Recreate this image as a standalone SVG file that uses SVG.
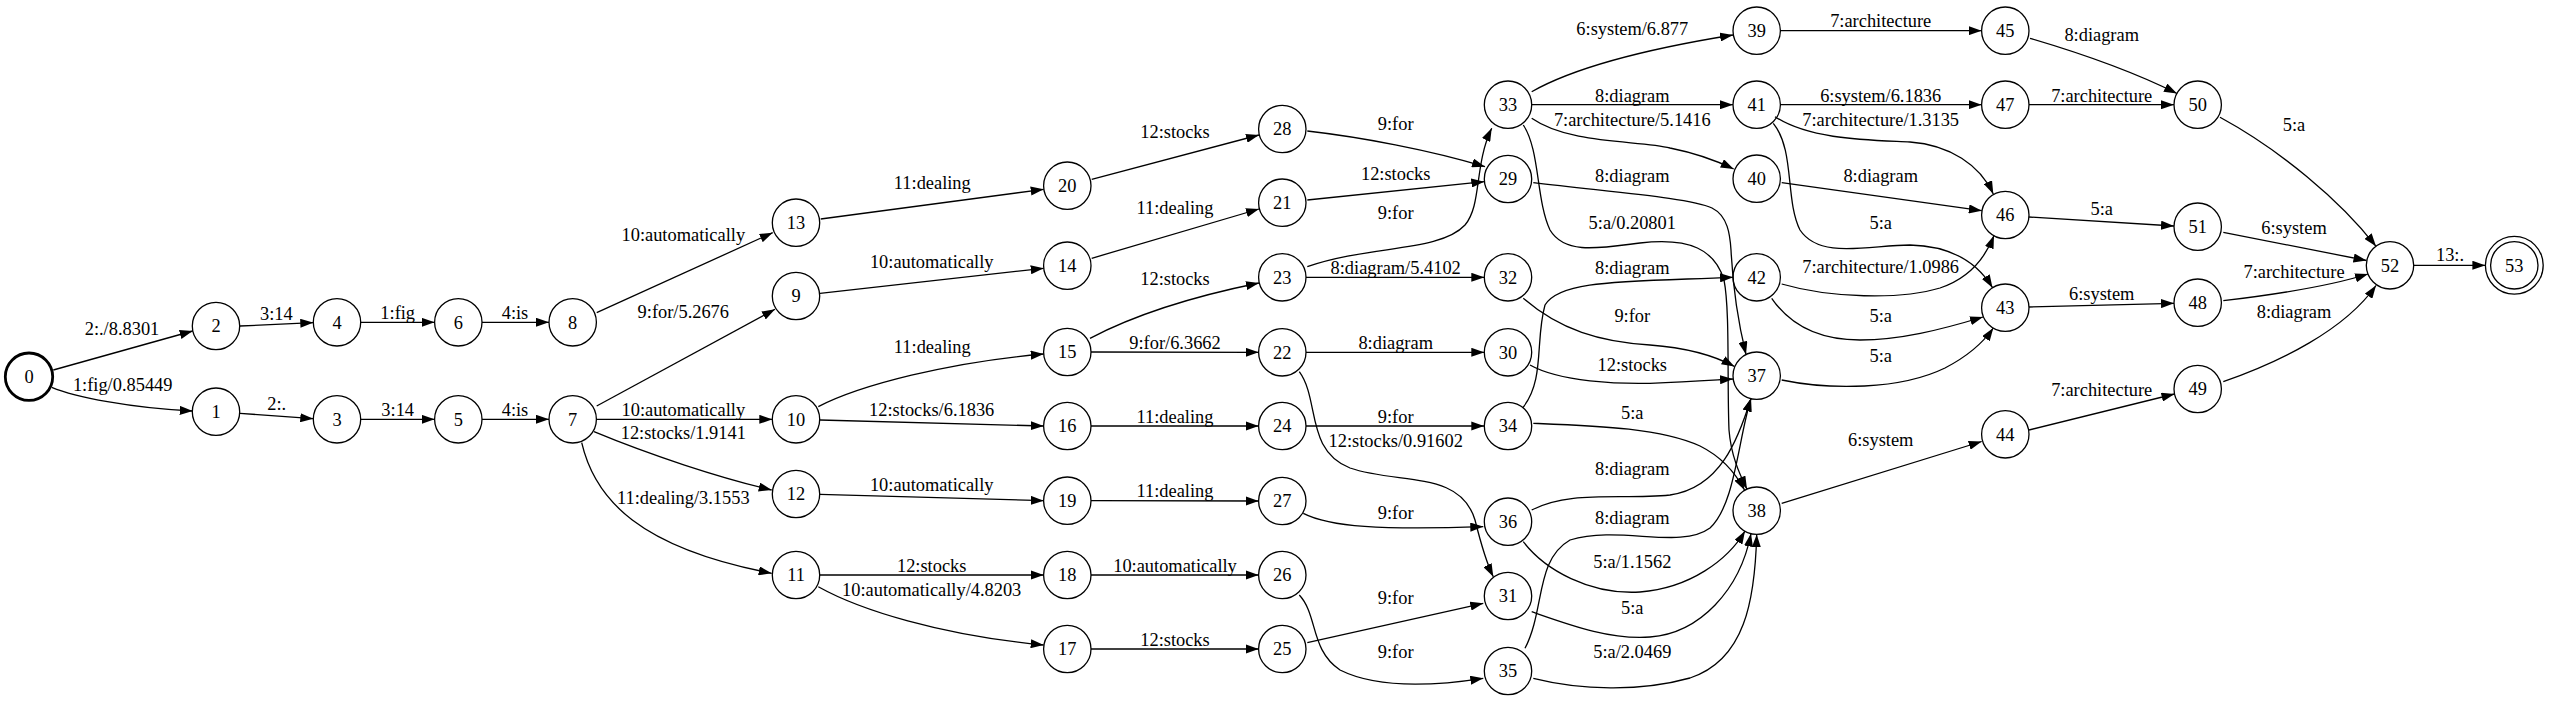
<svg xmlns="http://www.w3.org/2000/svg" width="2550" height="701" viewBox="0 0 2550 701">
<style>
text{font-family:"Liberation Serif","Times New Roman",Times,serif;font-size:18.4px;text-anchor:middle;fill:#000}
.node circle{fill:none;stroke:#000;stroke-width:1.3}
.node.start circle{stroke-width:2.8}
.edge path{fill:none;stroke:#000;stroke-width:1.3;marker-end:url(#ah)}
</style>
<defs>
<marker id="ah" viewBox="0 0 13 9.1" refX="13" refY="4.55" markerWidth="13" markerHeight="9.1" markerUnits="userSpaceOnUse" orient="auto">
<polygon points="0,0 13,4.55 0,9.1" fill="#000"/>
</marker>
</defs>
<rect width="2550" height="701" fill="#fff"/>
<g id="edges">
<g class="edge"><path d="M53.3,370 L192.7,331"/><text x="122" y="335">2:./8.8301</text></g>
<g class="edge"><path d="M51.7,387.3 C75,397 130,408 192.7,411"/><text x="122.7" y="391">1:fig/0.85449</text></g>
<g class="edge"><path d="M240,326 L313.3,322.7"/><text x="276.3" y="320">3:14</text></g>
<g class="edge"><path d="M240,413.3 L313.3,418.7"/><text x="276.7" y="410">2:.</text></g>
<g class="edge"><path d="M361,322.3 L434.6,322.3"/><text x="397.7" y="318.5">1:fig</text></g>
<g class="edge"><path d="M361,419.3 L434.6,419.3"/><text x="397.7" y="416">3:14</text></g>
<g class="edge"><path d="M482,322.3 L549,322.3"/><text x="515" y="319">4:is</text></g>
<g class="edge"><path d="M482,419.3 L549,419.3"/><text x="515" y="415.5">4:is</text></g>
<g class="edge"><path d="M596.7,312.7 L772.7,232.7"/><text x="683.3" y="241">10:automatically</text></g>
<g class="edge"><path d="M596.7,406 L775,309.3"/><text x="683.3" y="318.3">9:for/5.2676</text></g>
<g class="edge"><path d="M596.4,419.3 L772.3,419.3"/><text x="683.3" y="415.5">10:automatically</text></g>
<g class="edge"><path d="M594,431.7 C650,455 720,478 771.7,490"/><text x="683.3" y="439.3">12:stocks/1.9141</text></g>
<g class="edge"><path d="M581.7,442.7 C595,500 640,548 771.7,573.3"/><text x="683.3" y="503.7">11:dealing/3.1553</text></g>
<g class="edge"><path d="M820.7,219 L1043.7,189.3"/><text x="932.3" y="188.7">11:dealing</text></g>
<g class="edge"><path d="M820,293.3 L1043.7,268.3"/><text x="931.7" y="268.3">10:automatically</text></g>
<g class="edge"><path d="M818.3,406.7 C860,385 950,362 1043.7,354"/><text x="932.3" y="353.3">11:dealing</text></g>
<g class="edge"><path d="M820,420 L1043.7,426"/><text x="931.7" y="415.5">12:stocks/6.1836</text></g>
<g class="edge"><path d="M820,494.3 L1043.7,500.7"/><text x="931.7" y="491">10:automatically</text></g>
<g class="edge"><path d="M820,575 L1043.7,575"/><text x="931.7" y="571.5">12:stocks</text></g>
<g class="edge"><path d="M818.3,586.7 C860,610 940,635 1043.7,645"/><text x="931.7" y="596">10:automatically/4.8203</text></g>
<g class="edge"><path d="M1091.7,179.3 L1259,135"/><text x="1175" y="138.3">12:stocks</text></g>
<g class="edge"><path d="M1091.7,258.3 L1259,209"/><text x="1175" y="213.7">11:dealing</text></g>
<g class="edge"><path d="M1090,338.3 C1140,312 1200,295 1259,283"/><text x="1175" y="285.3">12:stocks</text></g>
<g class="edge"><path d="M1091,352 L1258.6,352.3"/><text x="1175" y="349">9:for/6.3662</text></g>
<g class="edge"><path d="M1091,426 L1258.6,426"/><text x="1175" y="422.5">11:dealing</text></g>
<g class="edge"><path d="M1091,500.7 L1258.6,501"/><text x="1175" y="497">11:dealing</text></g>
<g class="edge"><path d="M1091,575 L1258.6,575"/><text x="1175" y="571.5">10:automatically</text></g>
<g class="edge"><path d="M1091,649 L1258.6,649"/><text x="1175" y="645.5">12:stocks</text></g>
<g class="edge"><path d="M1307.3,131 C1360,137 1430,150 1485,166.7"/><text x="1395.7" y="130.3">9:for</text></g>
<g class="edge"><path d="M1307.3,200 L1484.3,181.7"/><text x="1395.7" y="180">12:stocks</text></g>
<g class="edge"><path d="M1307.3,266.7 C1370,245 1440,252 1465,225 C1482,205 1474,165 1491.7,128.3"/><text x="1395.7" y="219.3">9:for</text></g>
<g class="edge"><path d="M1306,277.3 L1484.3,277.3"/><text x="1395.7" y="273.5">8:diagram/5.4102</text></g>
<g class="edge"><path d="M1306,352.3 L1484.3,352.3"/><text x="1395.7" y="349">8:diagram</text></g>
<g class="edge"><path d="M1306,426 L1484.3,426"/><text x="1395.7" y="422.5">9:for</text></g>
<g class="edge"><path d="M1299.3,371.7 C1320,400 1305,450 1350,468 C1400,485 1460,470 1475,520 C1480,540 1485,560 1493.3,576.7"/><text x="1395.7" y="446.7">12:stocks/0.91602</text></g>
<g class="edge"><path d="M1303.3,513.3 C1330,527 1380,530 1483.3,526.7"/><text x="1395.7" y="519.3">9:for</text></g>
<g class="edge"><path d="M1307.3,642.7 L1483.3,603.3"/><text x="1395.7" y="604.3">9:for</text></g>
<g class="edge"><path d="M1299.3,595 C1318,615 1310,650 1340,670 C1380,690 1440,685 1483.3,678.3"/><text x="1395.7" y="658.3">9:for</text></g>
<g class="edge"><path d="M1531.7,91.7 C1570,70 1640,50 1733,35"/><text x="1632.3" y="35.3">6:system/6.877</text></g>
<g class="edge"><path d="M1531.7,104.7 L1733,104.7"/><text x="1632.3" y="101.5">8:diagram</text></g>
<g class="edge"><path d="M1531.7,118.3 C1570,145 1640,140 1670,148 C1695,153 1715,160 1733.7,169"/><text x="1632.3" y="126">7:architecture/5.1416</text></g>
<g class="edge"><path d="M1533.3,182.7 C1620,193 1690,198 1712,208 C1728,216 1730,235 1731,250 C1733,290 1739,326 1746,354.5"/><text x="1632.3" y="181.7">8:diagram</text></g>
<g class="edge"><path d="M1523.3,125 C1540,150 1536,200 1550,230 C1565,255 1600,248 1640,243 C1690,237 1715,250 1724,280 C1730,310 1727,380 1729,430 C1731,455 1739,473 1747,489.2"/><text x="1632.3" y="228.7">5:a/0.20801</text></g>
<g class="edge"><path d="M1523,407.5 C1545,380 1535,340 1545,305 C1560,280 1620,282 1733,277.3"/><text x="1632.3" y="274.3">8:diagram</text></g>
<g class="edge"><path d="M1523.3,298.3 C1560,330 1600,342 1650,345 C1690,348 1715,356 1734.5,366.5"/><text x="1632.3" y="321.7">9:for</text></g>
<g class="edge"><path d="M1530,365 C1560,382 1620,384 1650,383.3 C1690,382 1715,380 1733,379"/><text x="1632.3" y="371">12:stocks</text></g>
<g class="edge"><path d="M1533.3,423.3 C1600,426 1660,428 1700,446 C1720,456 1735,472 1744.5,490"/><text x="1632.3" y="419.3">5:a</text></g>
<g class="edge"><path d="M1531.7,510 C1570,490 1620,500 1670,495 C1720,488 1738,440 1751,398.5"/><text x="1632.3" y="475.3">8:diagram</text></g>
<g class="edge"><path d="M1525,648.3 C1545,610 1535,560 1570,540 C1620,525 1680,550 1710,528 C1735,505 1738,440 1751,398.5"/><text x="1632.3" y="524.3">8:diagram</text></g>
<g class="edge"><path d="M1523.3,541.7 C1545,570 1590,595 1640,592 C1690,588 1728,560 1745,531"/><text x="1632.3" y="567.7">5:a/1.1562</text></g>
<g class="edge"><path d="M1531.7,611.7 C1570,625 1610,640 1650,637 C1700,633 1740,590 1751,533.5"/><text x="1632.3" y="614.3">5:a</text></g>
<g class="edge"><path d="M1533.3,678.3 C1580,690 1640,692 1690,678 C1745,660 1755,600 1756.7,534.4"/><text x="1632.3" y="658.3">5:a/2.0469</text></g>
<g class="edge"><path d="M1780.4,30.7 L1981.6,30.7"/><text x="1880.7" y="27">7:architecture</text></g>
<g class="edge"><path d="M1780.4,104.7 L1981.6,104.7"/><text x="1880.7" y="101.5">6:system/6.1836</text></g>
<g class="edge"><path d="M1775,116.7 C1810,140 1870,140 1910,142 C1950,145 1980,165 1993.3,194"/><text x="1880.7" y="126">7:architecture/1.3135</text></g>
<g class="edge"><path d="M1781.7,182.7 L1981.8,210.7"/><text x="1880.7" y="181.7">8:diagram</text></g>
<g class="edge"><path d="M1773.3,123.3 C1795,150 1785,200 1800,230 C1820,260 1870,245 1910,245 C1950,246 1977,262 1992.5,287.7"/><text x="1880.7" y="229.3">5:a</text></g>
<g class="edge"><path d="M1781.7,284 C1830,298 1900,300 1940,288 C1970,278 1986,256 1994,235.5"/><text x="1880.7" y="272.7">7:architecture/1.0986</text></g>
<g class="edge"><path d="M1771.7,298.3 C1790,325 1820,340 1860,340 C1900,340 1940,330 1983,317"/><text x="1880.7" y="322">5:a</text></g>
<g class="edge"><path d="M1781.7,380 C1830,390 1900,390 1945,368 C1970,355 1985,340 1993.3,328"/><text x="1880.7" y="362">5:a</text></g>
<g class="edge"><path d="M1781.7,503.3 L1981.7,441.5"/><text x="1880.7" y="446">6:system</text></g>
<g class="edge"><path d="M2030,38.3 C2080,53 2130,70 2177,93.5"/><text x="2101.7" y="41">8:diagram</text></g>
<g class="edge"><path d="M2029,104.7 L2174,104.7"/><text x="2101.7" y="101.5">7:architecture</text></g>
<g class="edge"><path d="M2029,217 L2174,226"/><text x="2101.7" y="215">5:a</text></g>
<g class="edge"><path d="M2029,307 L2174,303.3"/><text x="2101.7" y="300">6:system</text></g>
<g class="edge"><path d="M2029,430 L2174.5,394"/><text x="2101.7" y="396">7:architecture</text></g>
<g class="edge"><path d="M2220,117.3 C2280,150 2340,200 2376,246.3"/><text x="2294" y="131">5:a</text></g>
<g class="edge"><path d="M2223.3,232.3 L2366.5,260.5"/><text x="2294" y="233.7">6:system</text></g>
<g class="edge"><path d="M2223.3,300.7 C2280,294 2330,286 2368,274"/><text x="2294" y="278.3">7:architecture</text></g>
<g class="edge"><path d="M2223.3,381.7 C2280,362 2345,330 2376,285.5"/><text x="2294" y="318.3">8:diagram</text></g>
<g class="edge"><path d="M2413.7,265.3 L2485.4,265.3"/><text x="2450" y="260.5">13:.</text></g>
</g>
<g id="node0" class="node start"><circle cx="29" cy="376.7" r="23.7"/><text x="29" y="383">0</text></g>
<g id="node1" class="node"><circle cx="216" cy="411.7" r="23.7"/><text x="216" y="418">1</text></g>
<g id="node2" class="node"><circle cx="216" cy="326" r="23.7"/><text x="216" y="332.3">2</text></g>
<g id="node3" class="node"><circle cx="337" cy="419.3" r="23.7"/><text x="337" y="425.6">3</text></g>
<g id="node4" class="node"><circle cx="337" cy="322.3" r="23.7"/><text x="337" y="328.6">4</text></g>
<g id="node5" class="node"><circle cx="458.3" cy="419.3" r="23.7"/><text x="458.3" y="425.6">5</text></g>
<g id="node6" class="node"><circle cx="458.3" cy="322.3" r="23.7"/><text x="458.3" y="328.6">6</text></g>
<g id="node7" class="node"><circle cx="572.7" cy="419.3" r="23.7"/><text x="572.7" y="425.6">7</text></g>
<g id="node8" class="node"><circle cx="572.7" cy="322.3" r="23.7"/><text x="572.7" y="328.6">8</text></g>
<g id="node9" class="node"><circle cx="796" cy="296" r="23.7"/><text x="796" y="302.3">9</text></g>
<g id="node10" class="node"><circle cx="796" cy="419.3" r="23.7"/><text x="796" y="425.6">10</text></g>
<g id="node11" class="node"><circle cx="796" cy="575" r="23.7"/><text x="796" y="581.3">11</text></g>
<g id="node12" class="node"><circle cx="796" cy="494" r="23.7"/><text x="796" y="500.3">12</text></g>
<g id="node13" class="node"><circle cx="796" cy="222.7" r="23.7"/><text x="796" y="229">13</text></g>
<g id="node14" class="node"><circle cx="1067.3" cy="265.7" r="23.7"/><text x="1067.3" y="272">14</text></g>
<g id="node15" class="node"><circle cx="1067.3" cy="352" r="23.7"/><text x="1067.3" y="358.3">15</text></g>
<g id="node16" class="node"><circle cx="1067.3" cy="426" r="23.7"/><text x="1067.3" y="432.3">16</text></g>
<g id="node17" class="node"><circle cx="1067.3" cy="649" r="23.7"/><text x="1067.3" y="655.3">17</text></g>
<g id="node18" class="node"><circle cx="1067.3" cy="575" r="23.7"/><text x="1067.3" y="581.3">18</text></g>
<g id="node19" class="node"><circle cx="1067.3" cy="500.7" r="23.7"/><text x="1067.3" y="507">19</text></g>
<g id="node20" class="node"><circle cx="1067.3" cy="185.7" r="23.7"/><text x="1067.3" y="192">20</text></g>
<g id="node21" class="node"><circle cx="1282.3" cy="202.7" r="23.7"/><text x="1282.3" y="209">21</text></g>
<g id="node22" class="node"><circle cx="1282.3" cy="352.3" r="23.7"/><text x="1282.3" y="358.6">22</text></g>
<g id="node23" class="node"><circle cx="1282.3" cy="277.3" r="23.7"/><text x="1282.3" y="283.6">23</text></g>
<g id="node24" class="node"><circle cx="1282.3" cy="426" r="23.7"/><text x="1282.3" y="432.3">24</text></g>
<g id="node25" class="node"><circle cx="1282.3" cy="649" r="23.7"/><text x="1282.3" y="655.3">25</text></g>
<g id="node26" class="node"><circle cx="1282.3" cy="575" r="23.7"/><text x="1282.3" y="581.3">26</text></g>
<g id="node27" class="node"><circle cx="1282.3" cy="501" r="23.7"/><text x="1282.3" y="507.3">27</text></g>
<g id="node28" class="node"><circle cx="1282.3" cy="129" r="23.7"/><text x="1282.3" y="135.3">28</text></g>
<g id="node29" class="node"><circle cx="1508" cy="179" r="23.7"/><text x="1508" y="185.3">29</text></g>
<g id="node30" class="node"><circle cx="1508" cy="352.3" r="23.7"/><text x="1508" y="358.6">30</text></g>
<g id="node31" class="node"><circle cx="1508" cy="596" r="23.7"/><text x="1508" y="602.3">31</text></g>
<g id="node32" class="node"><circle cx="1508" cy="277.3" r="23.7"/><text x="1508" y="283.6">32</text></g>
<g id="node33" class="node"><circle cx="1508" cy="104.7" r="23.7"/><text x="1508" y="111">33</text></g>
<g id="node34" class="node"><circle cx="1508" cy="426" r="23.7"/><text x="1508" y="432.3">34</text></g>
<g id="node35" class="node"><circle cx="1508" cy="671" r="23.7"/><text x="1508" y="677.3">35</text></g>
<g id="node36" class="node"><circle cx="1508" cy="521.7" r="23.7"/><text x="1508" y="528">36</text></g>
<g id="node37" class="node"><circle cx="1756.7" cy="375.7" r="23.7"/><text x="1756.7" y="382">37</text></g>
<g id="node38" class="node"><circle cx="1756.7" cy="510.7" r="23.7"/><text x="1756.7" y="517">38</text></g>
<g id="node39" class="node"><circle cx="1756.7" cy="30.7" r="23.7"/><text x="1756.7" y="37">39</text></g>
<g id="node40" class="node"><circle cx="1756.7" cy="178.7" r="23.7"/><text x="1756.7" y="185">40</text></g>
<g id="node41" class="node"><circle cx="1756.7" cy="104.7" r="23.7"/><text x="1756.7" y="111">41</text></g>
<g id="node42" class="node"><circle cx="1756.7" cy="277.3" r="23.7"/><text x="1756.7" y="283.6">42</text></g>
<g id="node43" class="node"><circle cx="2005.3" cy="307.7" r="23.7"/><text x="2005.3" y="314">43</text></g>
<g id="node44" class="node"><circle cx="2005.3" cy="434.3" r="23.7"/><text x="2005.3" y="440.6">44</text></g>
<g id="node45" class="node"><circle cx="2005.3" cy="30.7" r="23.7"/><text x="2005.3" y="37">45</text></g>
<g id="node46" class="node"><circle cx="2005.3" cy="215" r="23.7"/><text x="2005.3" y="221.3">46</text></g>
<g id="node47" class="node"><circle cx="2005.3" cy="104.7" r="23.7"/><text x="2005.3" y="111">47</text></g>
<g id="node48" class="node"><circle cx="2197.7" cy="302.7" r="23.7"/><text x="2197.7" y="309">48</text></g>
<g id="node49" class="node"><circle cx="2197.7" cy="389" r="23.7"/><text x="2197.7" y="395.3">49</text></g>
<g id="node50" class="node"><circle cx="2197.7" cy="104.7" r="23.7"/><text x="2197.7" y="111">50</text></g>
<g id="node51" class="node"><circle cx="2197.7" cy="226.7" r="23.7"/><text x="2197.7" y="233">51</text></g>
<g id="node52" class="node"><circle cx="2390" cy="265.3" r="23.7"/><text x="2390" y="271.6">52</text></g>
<g id="node53" class="node"><circle cx="2514.3" cy="265.3" r="23.7"/><circle cx="2514.3" cy="265.3" r="28.9"/><text x="2514.3" y="271.6">53</text></g>
</svg>
